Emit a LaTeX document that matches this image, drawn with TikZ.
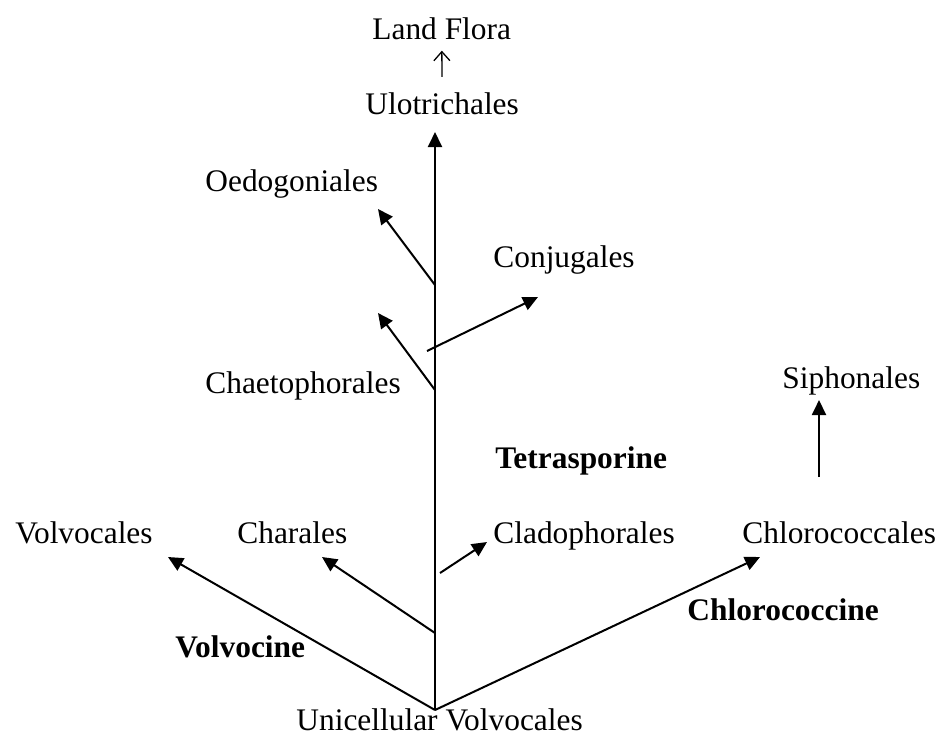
\documentclass[tikz,border=0pt]{standalone}
\usepackage{fontspec}
\setmainfont{Liberation Serif}
\usetikzlibrary{arrows.meta}
\tikzset{
  taxon/.style={anchor=base west,inner sep=0pt,font=\fontsize{15.7}{18}\selectfont},
  groupname/.style={anchor=base west,inner sep=0pt,font=\fontsize{15.7}{18}\selectfont\bfseries},
  treearrow/.style={-{Triangle[length=7.5pt,width=7pt]},line width=1pt},
  glypharrow/.style={-{Straight Barb[length=4.5pt,width=8pt]},line width=0.65pt}
}

\begin{document}
\begin{tikzpicture}[x=0.5pt,y=-0.5pt]
  \useasboundingbox (0,0) rectangle (940,736);
  % labels
  \node[taxon] (flora) at (372,39) {Land Flora};
  \node[taxon] (ulo) at (365,114) {Ulotrichales};
  \node[taxon] (oedo) at (205,191) {Oedogoniales};
  \node[taxon] (conj) at (493,267) {Conjugales};
  \node[taxon] (chaeto) at (205,393) {Chaetophorales};
  \node[taxon] (sipho) at (782,388) {Siphonales};
  \node[groupname] (tetra) at (495,468) {Tetrasporine};
  \node[taxon] (volvo) at (15,543) {Volvocales};
  \node[taxon] (chara) at (237,543) {Charales};
  \node[taxon] (clado) at (493,543) {Cladophorales};
  \node[taxon] (chloro) at (742,543) {Chlorococcales};
  \node[groupname] (chlorine) at (687,620) {Chlorococcine};
  \node[groupname] (volvine) at (175,657) {Volvocine};
  \node[taxon] (uni) at (296,730) {Unicellular Volvocales};
  % branch points and tips
  \coordinate (root) at (435,710);
  \coordinate (top) at (435,132);
  \coordinate (bchara) at (435,633);
  \coordinate (bclado) at (440,573);
  \coordinate (bchaeto) at (435,390);
  \coordinate (bconj) at (427,351);
  \coordinate (boedo) at (435,285);
  \coordinate (bsipho) at (819,477);
  \coordinate (tvolvo) at (168,557);
  \coordinate (tchara) at (322,557);
  \coordinate (tclado) at (487,542);
  \coordinate (tchloro) at (760,557);
  \coordinate (tchaeto) at (378,313);
  \coordinate (tconj) at (538,297);
  \coordinate (toedo) at (378,209);
  \coordinate (tsipho) at (819,400);
  % tree
  \draw[treearrow] (root)--(top);
  \draw[treearrow] (root)--(tvolvo);
  \draw[treearrow] (root)--(tchloro);
  \draw[treearrow] (bchara)--(tchara);
  \draw[treearrow] (bclado)--(tclado);
  \draw[treearrow] (bchaeto)--(tchaeto);
  \draw[treearrow] (bconj)--(tconj);
  \draw[treearrow] (boedo)--(toedo);
  \draw[treearrow] (bsipho)--(tsipho);
  \draw[glypharrow,shorten <=7.5pt,shorten >=5.5pt] (ulo.north)--(flora.south);
\end{tikzpicture}
\end{document}
